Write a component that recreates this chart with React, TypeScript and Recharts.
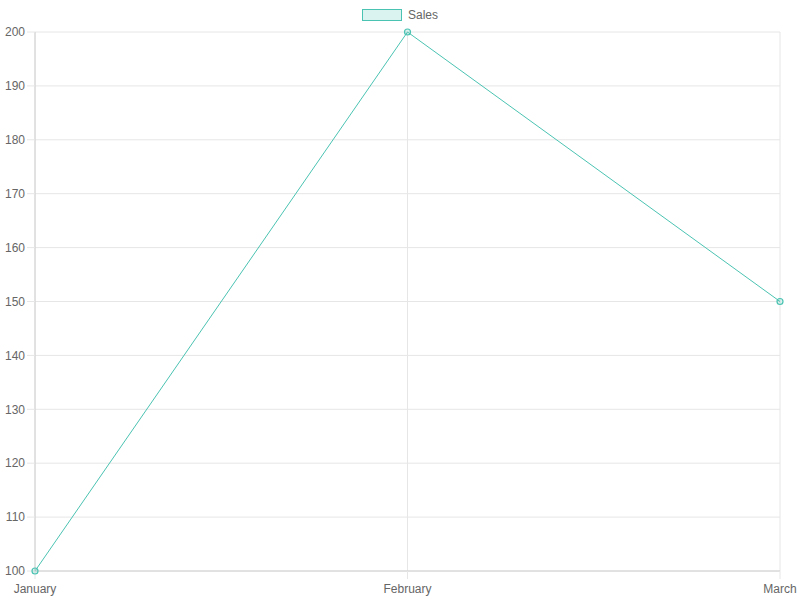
import { LineChart, Line, XAxis, YAxis, CartesianGrid, Legend } from 'recharts';

const months = ['January', 'February', 'March'];
const sales = [100, 200, 150];
const yTicks = [100, 110, 120, 130, 140, 150, 160, 170, 180, 190, 200];

const TEAL = 'rgb(75, 195, 178)';
const TEAL_FILL = 'rgba(75, 195, 178, 0.2)';
const GRID = '#e6e6e6';
const TEXT = '#666';
const FONT = '"Liberation Sans", Arial, Helvetica, sans-serif';

const data = months.map((m, i) => ({ month: m, sales: sales[i] }));

function SalesLegend() {
  return (
    <div style={{ display: 'flex', justifyContent: 'center', alignItems: 'center', height: 24, fontFamily: FONT }}>
      <div style={{ width: 38, height: 10, border: `1px solid ${TEAL}`, background: TEAL_FILL, marginRight: 6 }} />
      <span style={{ fontSize: 12, color: TEXT }}>Sales</span>
    </div>
  );
}

export default function App() {
  return (
    <div style={{ position: 'fixed', left: 0, top: 0, width: 800, height: 600, background: '#fff', fontFamily: FONT }}>
      <LineChart width={800} height={600} data={data} margin={{ top: 8, right: 20, left: 0, bottom: 0 }}>
        <Legend verticalAlign="top" align="center" content={<SalesLegend />} wrapperStyle={{ top: 3, left: 0, width: 800, height: 24 }} />
        <CartesianGrid stroke={GRID} strokeWidth={1} />
        <XAxis
          dataKey="month"
          height={29}
          stroke="#d0d0d0"
          tickLine={{ stroke: GRID }}
          tickSize={8}
          tickMargin={5}
          interval={0}
          tick={{ fontSize: 12, fill: TEXT, fontFamily: FONT }}
        />
        <YAxis
          domain={[100, 200]}
          ticks={yTicks}
          width={35}
          stroke="#d0d0d0"
          tickLine={{ stroke: GRID }}
          tickSize={8}
          tickMargin={2}
          interval={0}
          tick={{ fontSize: 12, fill: TEXT, fontFamily: FONT }}
        />
        <Line
          type="linear"
          dataKey="sales"
          name="Sales"
          stroke={TEAL}
          strokeWidth={1}
          dot={{ r: 3, stroke: TEAL, strokeWidth: 1.2, fill: TEAL_FILL }}
          activeDot={false}
          isAnimationActive={false}
        />
      </LineChart>
    </div>
  );
}
